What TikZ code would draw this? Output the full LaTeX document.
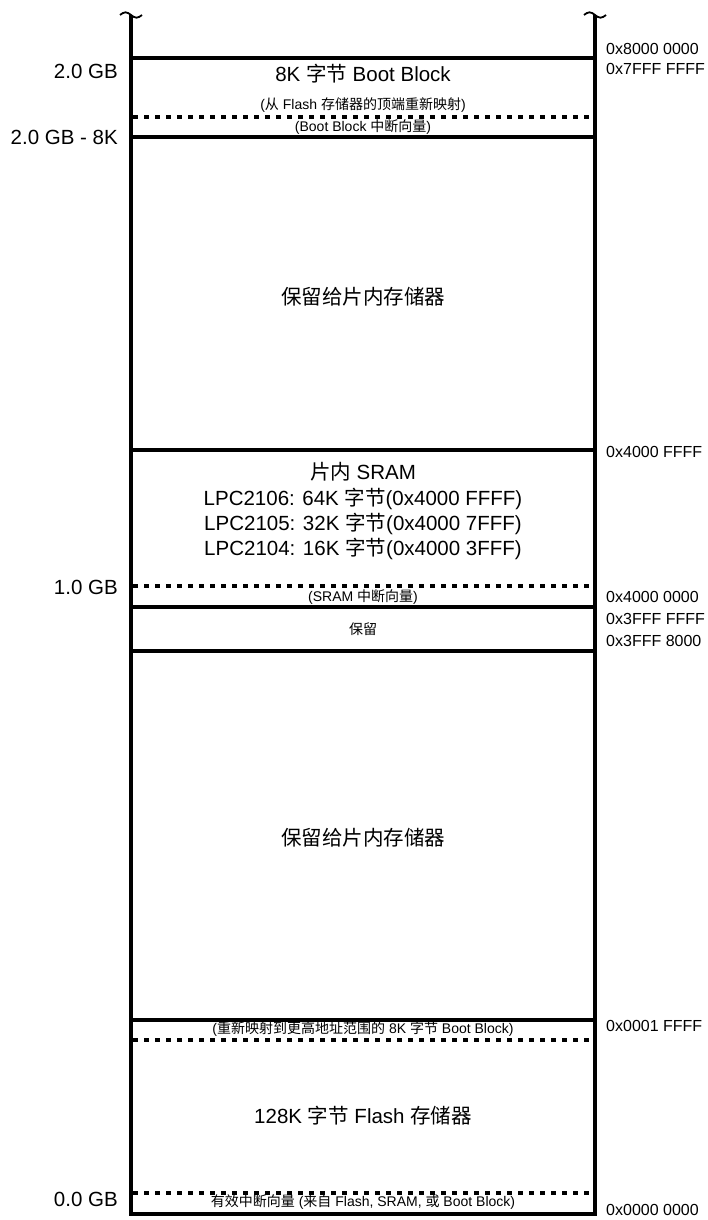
\documentclass[tikz,border=0pt]{standalone}
\usepackage{fontspec}
\setmainfont{Liberation Sans}
\newfontfamily\cjk{Noto Sans CJK SC}
\newcommand\zh[1]{{\cjk #1}}
\begin{document}
\begin{tikzpicture}[x=1pt,y=-1pt,
  frame/.style={line width=3.3pt},
  solidline/.style={line width=3.3pt},
  dotline/.style={line width=3.3pt,dash pattern=on 5pt off 6pt},
  tilde/.style={line width=1.8pt},
  big/.style={inner sep=0pt,font=\fontsize{20.5}{24}\selectfont},
  small/.style={inner sep=0pt,font=\fontsize{14}{17}\selectfont},
  lbl/.style={inner sep=0pt,anchor=east,font=\fontsize{20.5}{24}\selectfont},
  addr/.style={inner sep=0pt,anchor=west,font=\fontsize{16}{19}\selectfont}]
\useasboundingbox (0,0) rectangle (708,1220);
% frame corners
\coordinate (LT) at (131,15);
\coordinate (RT) at (595,15);
\coordinate (LB) at (131,1214);
\coordinate (RB) at (595,1214);
\draw[frame,line join=miter] (LT) -- (LB) -- (RB) -- (RT);
% tildes
\draw[tilde] (120,15) sin (125.5,12.3) cos (LT) sin (136.5,17.7) cos (142,15);
\draw[tilde] (584,15) sin (589.5,12.3) cos (RT) sin (600.5,17.7) cos (606,15);
% horizontal separators
\foreach \y/\n in {58/a,137/b,450/c,607/d,651/e,1020/f}{
  \coordinate (s\n L) at (131,\y);
  \coordinate (s\n R) at (595,\y);
  \draw[solidline] (s\n L) -- (s\n R);
}
\foreach \y/\n in {117/a,586/b,1040/c,1193/d}{
  \coordinate (d\n L) at (133,\y);
  \coordinate (d\n R) at (595,\y);
  \draw[dotline] (d\n L) -- (d\n R);
}
% inside texts
\node[big] (boot) at (363,74) {8K \zh{字节} Boot Block};
\node[small] (remap) at (363,105) {(\zh{从} Flash \zh{存储器的顶端重新映射})};
\node[small] (bootvec) at (363,127) {(Boot Block \zh{中断向量})};
\node[big] (res1) at (363,297) {\zh{保留给片内存储器}};
\node[big] (sram) at (363,472) {\zh{片内} SRAM};
\node[big] (l2106) at (363,499) {LPC2106: 64K \zh{字节}(0x4000 FFFF)};
\node[big] (l2105) at (363,524) {LPC2105: 32K \zh{字节}(0x4000 7FFF)};
\node[big] (l2104) at (363,549) {LPC2104: 16K \zh{字节}(0x4000 3FFF)};
\node[small] (sramvec) at (363,597) {(SRAM \zh{中断向量})};
\node[small] (res2) at (363,629) {\zh{保留}};
\node[big] (res3) at (363,838) {\zh{保留给片内存储器}};
\node[small] (remap2) at (363,1029) {(\zh{重新映射到更高地址范围的} 8K \zh{字节} Boot Block)};
\node[big] (flash) at (363,1116) {128K \zh{字节} Flash \zh{存储器}};
\node[small] (valid) at (363,1202) {\zh{有效中断向量} (\zh{来自} Flash, SRAM, \zh{或} Boot Block)};
% left labels
\node[lbl] (g20) at (118,71) {2.0 GB};
\node[lbl] (g20k) at (118,137) {2.0 GB - 8K};
\node[lbl] (g10) at (118,587) {1.0 GB};
\node[lbl] (g00) at (118,1199) {0.0 GB};
% right labels
\node[addr] (a1) at (606,49) {0x8000 0000};
\node[addr] (a2) at (606,69) {0x7FFF FFFF};
\node[addr] (a3) at (606,452) {0x4000 FFFF};
\node[addr] (a4) at (606,597) {0x4000 0000};
\node[addr] (a5) at (606,619) {0x3FFF FFFF};
\node[addr] (a6) at (606,641) {0x3FFF 8000};
\node[addr] (a7) at (606,1026) {0x0001 FFFF};
\node[addr] (a8) at (606,1210) {0x0000 0000};
\end{tikzpicture}
\end{document}
